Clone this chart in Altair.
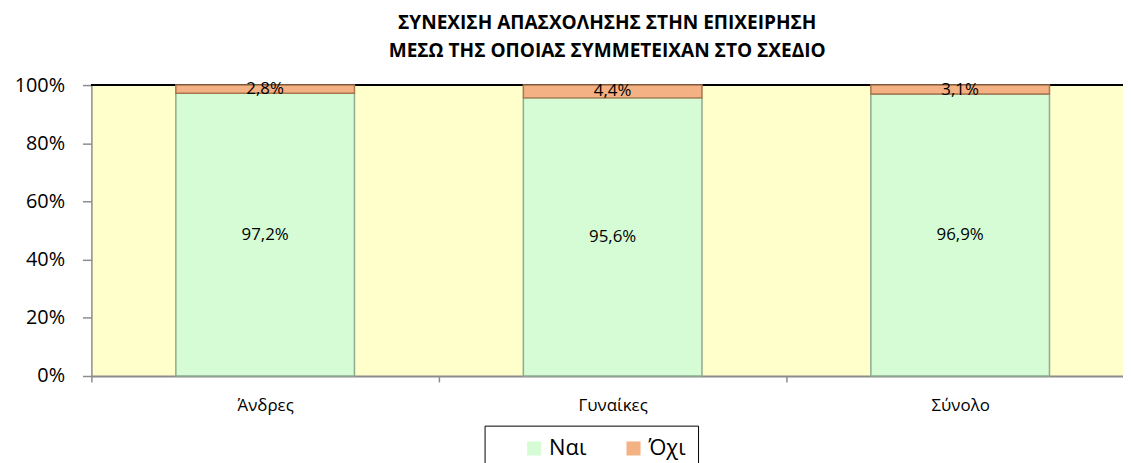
import altair as alt
import pandas as pd

categories = ["Άνδρες", "Γυναίκες", "Σύνολο"]
series = ["Ναι", "Όχι"]
nai = [97.2, 95.6, 96.9]
oxi = [2.8, 4.4, 3.1]
fill_colors = ["#D5FCD5", "#F4B183"]
stroke_colors = ["#8FAA8F", "#A8764F"]
y_ticks = [0, 0.2, 0.4, 0.6, 0.8, 1.0]
title_lines = ["ΣΥΝΕΧΙΣΗ ΑΠΑΣΧΟΛΗΣΗΣ ΣΤΗΝ ΕΠΙΧΕΙΡΗΣΗ",
               "ΜΕΣΩ ΤΗΣ ΟΠΟΙΑΣ ΣΥΜΜΕΤΕΙΧΑΝ ΣΤΟ ΣΧΕΔΙΟ"]

PLOT_W = 1039          # visible plot width in px
STEP_PX = 350          # category step in px
BAR_FRAC = 0.514       # bar width as fraction of step


def fmt(v):
    return f"{v:.1f}".replace(".", ",") + "%"


rows = []
for i, (c, a, b) in enumerate(zip(categories, nai, oxi)):
    rows.append({"cat": c, "idx": i, "x0": i - BAR_FRAC / 2, "x1": i + BAR_FRAC / 2,
                 "series": series[0], "y0": 0.0, "y1": a / 100,
                 "mid": a / 200, "label": fmt(a)})
    rows.append({"cat": c, "idx": i, "x0": i - BAR_FRAC / 2, "x1": i + BAR_FRAC / 2,
                 "series": series[1], "y0": a / 100,
                 "y1": (a + b) / 100, "mid": (a + b / 2) / 100, "label": fmt(b)})
df = pd.DataFrame(rows)
boundaries = [i - 0.5 for i in range(len(categories))]

FONT = "Open Sans"

x_scale = alt.Scale(domain=[-0.5, -0.5 + PLOT_W / STEP_PX], nice=False, zero=False)
y_scale = alt.Scale(domain=[0, 1], nice=False)

label_expr = ("datum.value == 0 ? '%s' : datum.value == 1 ? '%s' : '%s'"
              % tuple(categories))

base = alt.Chart(df)

top_rule = base.mark_rule(color="#000000", strokeWidth=2).encode(
    y=alt.datum(1.0, scale=y_scale)
)

bars = base.mark_bar(strokeWidth=1.5).encode(
    x=alt.X("x0:Q", scale=x_scale, title=None,
            axis=alt.Axis(orient="bottom", values=boundaries, labels=False,
                          tickSize=6, tickColor="#8C8C8C", tickWidth=1.5, grid=False,
                          domainColor="#8C8C8C", domainWidth=2)),
    x2="x1:Q",
    y=alt.Y("y0:Q", scale=y_scale, title=None,
            axis=alt.Axis(values=y_ticks, format=".0%", labelFontSize=20,
                          labelColor="#000000", labelPadding=18, tickSize=9,
                          tickColor="#8C8C8C", tickWidth=1.5,
                          domainColor="#8C8C8C", domainWidth=1.5, grid=False)),
    y2="y1:Q",
    color=alt.Color("series:N", sort=series,
                    scale=alt.Scale(domain=series, range=fill_colors),
                    legend=alt.Legend(
                        title=None, orient="none", legendX=396, legendY=343,
                        direction="horizontal", symbolType="square",
                        symbolSize=200, symbolStrokeWidth=0,
                        labelFontSize=22, labelColor="#000000",
                        columnPadding=9, labelOffset=4,
                        padding=12, symbolOffset=27,
                        strokeColor="#000000", fillColor="#FFFFFF")),
    stroke=alt.Stroke("series:N", scale=alt.Scale(domain=series, range=stroke_colors),
                      legend=None),
)

labels = base.mark_text(fontSize=17, color="#000000", baseline="middle").encode(
    x=alt.X("idx:Q", scale=x_scale, title=None,
            axis=alt.Axis(orient="bottom", values=[0, 1, 2], labelExpr=label_expr,
                          labelFontSize=17, labelColor="#000000", labelPadding=22,
                          ticks=False, domain=False, grid=False)),
    y=alt.Y("mid:Q", scale=y_scale, title=None),
    text="label:N",
)

chart = alt.layer(top_rule, bars, labels).resolve_axis(
    x="independent"
).properties(
    width=PLOT_W, height=293,
    autosize=alt.AutoSizeParams(type="none"),
    padding={"left": 84, "top": 76, "right": 0, "bottom": 86},
    title=alt.TitleParams(title_lines, fontSize=19.2, font=FONT, fontWeight="bold",
                          color="#000000", anchor="middle", lineHeight=28, offset=14),
).configure(font=FONT).configure_view(fill="#FFFFCC", stroke=None)

chart.save("out.html", embed_options={"renderer": "svg", "actions": False})
